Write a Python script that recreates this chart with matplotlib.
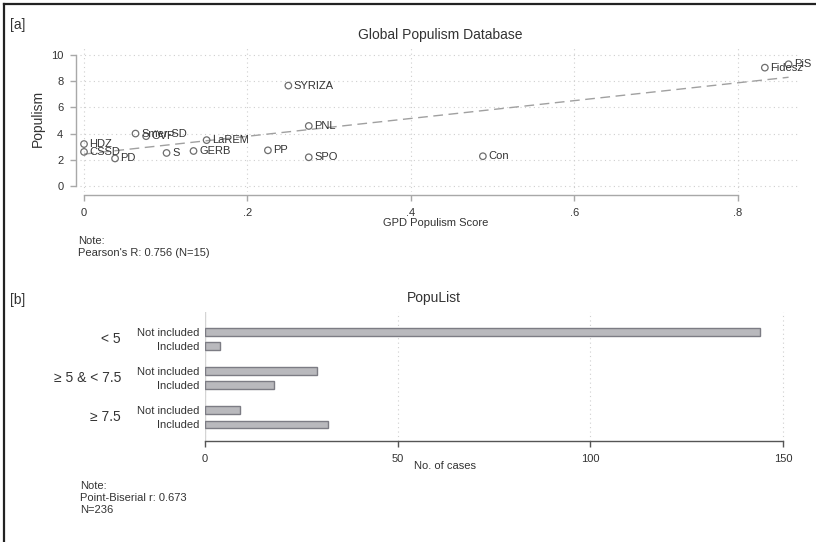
"""Two-panel figure: GPD scatter and PopuList bar counts."""

import matplotlib

matplotlib.use("Agg")

import numpy as np
from matplotlib import pyplot as plt
from matplotlib.lines import Line2D

# panel a: GPD populism score vs expert populism
PARTIES = ["HDZ", "CSSD", "PD", "Smer-SD", "ÖVP", "S", "GERB", "LaREM", "PP",
           "SYRIZA", "PNL", "SPO", "Con", "Fidesz", "PiS"]
GPD_SCORE = [0.0, 0.0, 0.038, 0.063, 0.076, 0.101, 0.134, 0.150, 0.225,
             0.250, 0.275, 0.275, 0.488, 0.833, 0.862]
POPULISM = [3.2, 2.6, 2.1, 4.0, 3.8, 2.52, 2.67, 3.5, 2.72,
            7.66, 4.58, 2.19, 2.27, 9.03, 9.29]

# panel b: PopuList inclusion by populism band
BANDS = ["< 5", "≥ 5 & < 7.5", "≥ 7.5"]
STATUS = ["Not included", "Included"]
COUNTS = [[144, 4], [29, 18], [9, 32]]

COLOR_TEXT = "#333333"
COLOR_AXIS = "#a8a8a8"
COLOR_GRID = "#cfcfcf"
COLOR_MARK = "#6e6e6e"
COLOR_BAR = "#b9b9bd"
COLOR_BAR_EDGE = "#7c7c84"

W, H = 816, 542

plt.rcParams.update({
    "font.family": ["Liberation Sans", "DejaVu Sans"],
    "font.size": 8,
    "text.color": COLOR_TEXT,
    "axes.labelcolor": COLOR_TEXT,
    "xtick.color": COLOR_AXIS,
    "ytick.color": COLOR_AXIS,
    "xtick.labelcolor": COLOR_TEXT,
    "ytick.labelcolor": COLOR_TEXT,
})


def px_rect(left, top, right, bottom):
    return [left / W, 1 - bottom / H, (right - left) / W, (bottom - top) / H]


fig = plt.figure(figsize=(W / 100, H / 100), dpi=100)

# outer frame (left and top edges only)
fig.add_artist(Line2D([4 / W, 4 / W], [0, 1 - 4 / H], transform=fig.transFigure,
                      color="#222222", lw=1.6))
fig.add_artist(Line2D([4 / W, 1], [1 - 4 / H, 1 - 4 / H], transform=fig.transFigure,
                      color="#222222", lw=1.6))

# ---- panel a
ax = fig.add_axes(px_rect(80, 48, 800, 192))
ax.set_xlim(-0.0049, 0.876)
ax.set_ylim(-0.46, 10.53)
for spine in ["top", "right"]:
    ax.spines[spine].set_visible(False)
ax.spines["left"].set_position(("outward", 3))
ax.spines["bottom"].set_position(("outward", 2.4))
ax.spines["left"].set_bounds(0, 10)
ax.spines["bottom"].set_bounds(0, 0.8)
for spine in ["left", "bottom"]:
    ax.spines[spine].set_color(COLOR_AXIS)
    ax.spines[spine].set_linewidth(1.0)
ax.set_xticks([0, 0.2, 0.4, 0.6, 0.8], ["0", ".2", ".4", ".6", ".8"])
ax.set_yticks([0, 2, 4, 6, 8, 10])
ax.tick_params(length=4, width=1.0, labelsize=8, pad=5)
ax.grid(True, color=COLOR_GRID, linestyle=(0, (1, 3)), linewidth=0.8)
ax.set_axisbelow(True)

slope, intercept = np.polyfit(GPD_SCORE, POPULISM, 1)
fit_x = np.array([min(GPD_SCORE), max(GPD_SCORE)])
ax.plot(fit_x, intercept + slope * fit_x, color="#a0a0a0", lw=1.0,
        linestyle=(0, (7, 4)), zorder=2)
ax.scatter(GPD_SCORE, POPULISM, s=22, facecolors="none", edgecolors=COLOR_MARK,
           linewidths=0.9, zorder=3)
for name, gx, gy in zip(PARTIES, GPD_SCORE, POPULISM):
    ax.annotate(name, (gx, gy), xytext=(4, 0), textcoords="offset points",
                va="center", ha="left", fontsize=8, color=COLOR_TEXT, zorder=4)

fig.text(10 / W, 1 - 25 / H, "[a]", fontsize=10, va="center")
fig.text(440 / W, 1 - 35 / H, "Global Populism Database", fontsize=10,
         ha="center", va="center")
fig.text(38 / W, 1 - 118 / H, "Populism", fontsize=10, rotation=90,
         ha="center", va="center")
fig.text(436 / W, 1 - 223 / H, "GPD Populism Score", fontsize=8,
         ha="center", va="center")
fig.text(78 / W, 1 - 241 / H, "Note:", fontsize=8, va="center")
fig.text(78 / W, 1 - 253 / H, "Pearson's R: 0.756 (N=15)", fontsize=8, va="center")

# ---- panel b
bx = fig.add_axes(px_rect(205, 312, 785, 441))
group_step = 2.78
positions = []
values = []
labels = []
for gi, band_counts in enumerate(COUNTS):
    for si, count in enumerate(band_counts):
        positions.append(gi * group_step + si)
        values.append(count)
        labels.append(STATUS[si])
bx.barh(positions, values, height=0.56, color=COLOR_BAR, edgecolor=COLOR_BAR_EDGE,
        linewidth=1.0, zorder=3)
bx.set_xlim(0, 150.5)
bx.set_ylim(2 * group_step + 1 + 1.18, -1.45)
bx.set_yticks(positions, labels)
bx.tick_params(axis="y", length=0, labelsize=8, pad=4)
bx.set_xticks([0, 50, 100, 150])
bx.tick_params(axis="x", length=4, width=1.0, labelsize=8, pad=5, color="#555555")
for spine in ["top", "right", "left"]:
    bx.spines[spine].set_visible(False)
bx.spines["bottom"].set_bounds(0, 150)
bx.spines["bottom"].set_color("#555555")
bx.spines["bottom"].set_linewidth(1.0)
bx.grid(True, axis="x", color=COLOR_GRID, linestyle=(0, (1, 3)), linewidth=0.8)
bx.axvline(0, color="#d4d4d4", lw=1.0, zorder=1)
bx.set_axisbelow(True)

for gi, band in enumerate(BANDS):
    center = gi * group_step + 0.5
    y_fig = bx.transData.transform((0, center))[1] / fig.dpi / (H / 100)
    fig.text(121 / W, y_fig, band, fontsize=10, ha="right", va="center")

fig.text(10 / W, 1 - 300 / H, "[b]", fontsize=10, va="center")
fig.text(434 / W, 1 - 298 / H, "PopuList", fontsize=10, ha="center", va="center")
fig.text(445 / W, 1 - 466 / H, "No. of cases", fontsize=8, ha="center", va="center")
fig.text(80 / W, 1 - 486 / H, "Note:", fontsize=8, va="center")
fig.text(80 / W, 1 - 498 / H, "Point-Biserial r: 0.673", fontsize=8, va="center")
fig.text(80 / W, 1 - 510 / H, "N=236", fontsize=8, va="center")

fig.savefig("out.png", dpi=100, facecolor="white")
